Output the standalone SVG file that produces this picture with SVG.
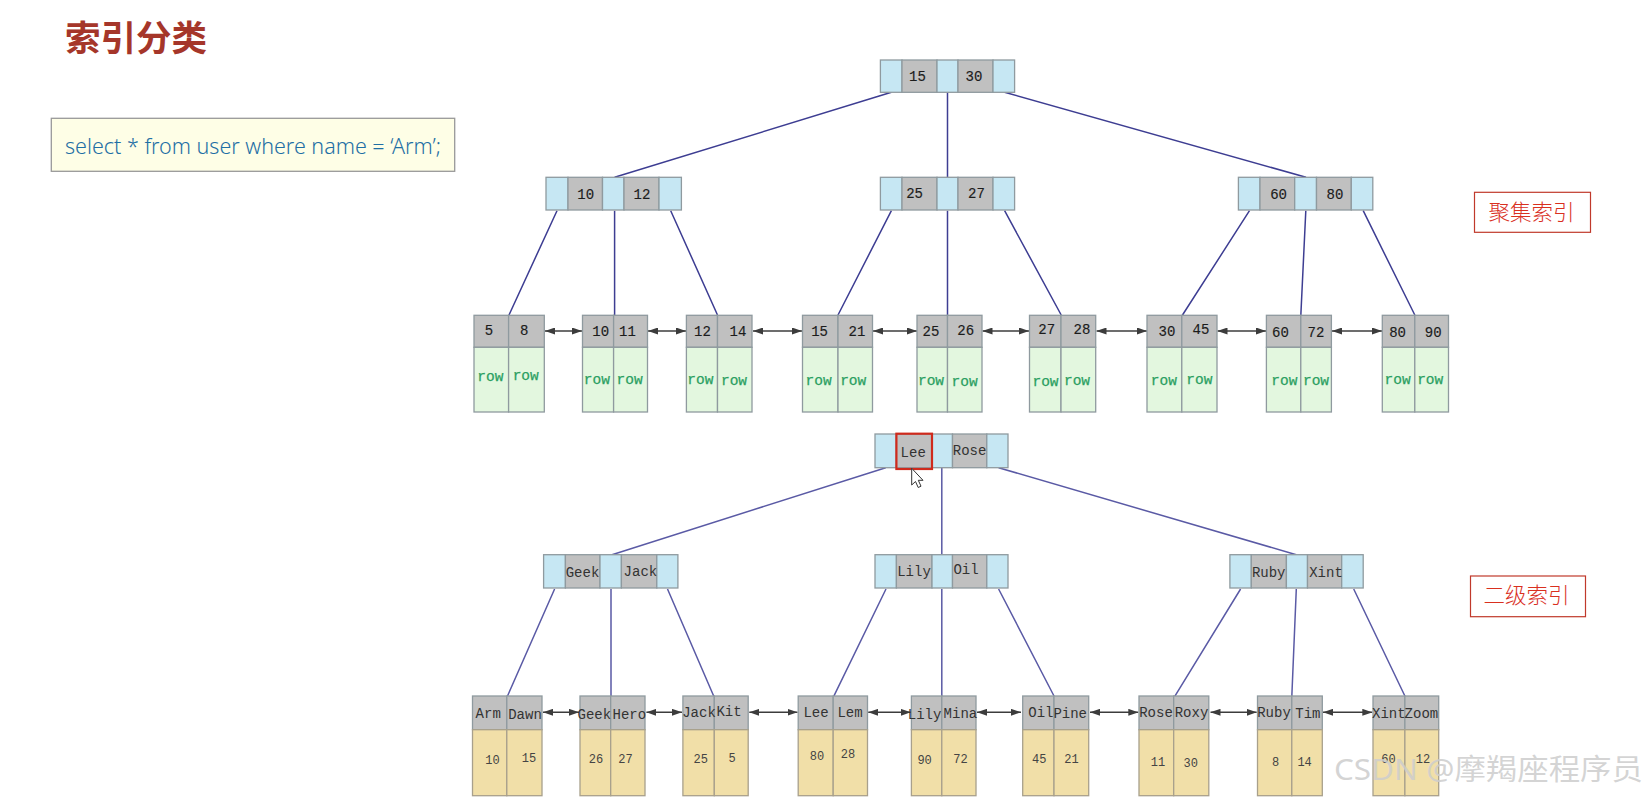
<svg xmlns="http://www.w3.org/2000/svg" width="1647" height="798" viewBox="0 0 1647 798">
<style>
text{font-family:"Liberation Mono",monospace;text-anchor:middle}
rect{stroke:#8f9a9f;stroke-width:1.3}
.b{fill:#c6e7f3}.g{fill:#c0c0c0}.r{fill:#e3f7df}.y{fill:#f1dfa8;stroke:#a8a08c}
.k{font-size:14px;fill:#1c1c1c;stroke:#1c1c1c;stroke-width:.15}
.n{font-size:14px;fill:#333}
.w{font-size:14.5px;fill:#2b9f62;stroke:#2b9f62;stroke-width:.25}
.v{font-size:12px;fill:#444}
.c{stroke:#3d3d92;stroke-width:1.5;fill:none}
.c2{stroke:#5a5aa5;stroke-width:1.5;fill:none}
.a{stroke:#3c3c3c;stroke-width:1.4;fill:none;marker-start:url(#ah);marker-end:url(#ah)}
.lb{fill:#fff;stroke:#c0392b;stroke-width:1.2}
.lt{font-family:"Noto Sans CJK SC",sans-serif;font-size:21.5px;font-weight:300;fill:#d9301f}
</style>
<defs><marker id="ah" markerUnits="userSpaceOnUse" markerWidth="10" markerHeight="7" refX="10" refY="3.5" orient="auto-start-reverse"><path d="M0 0L10 3.5L0 7Z" fill="#3c3c3c"/></marker></defs>
<rect width="1647" height="798" fill="#fff" style="stroke:none"/>
<g id="connectors">
<path class="c" d="M891.4 92.3L614.6 177.3M947.5 92.3V177.3M1004.6 92.3L1306 177.3M557 210.7L509 315M614.6 210.7V315M670.7 210.7L717.5 315M891.4 210.7L838 315M947.5 210.7V316M1004.6 210.7L1061.2 315M1249.5 210.7L1182.5 315M1305.8 210.7L1300.8 316M1363.2 210.7L1414.8 315"/>
<path class="c2" d="M885.7 467.7L612 554.7M941.8 467.7V554.7M998.6 467.7L1296.3 554.7M554.6 589L507.5 696M611 589V696M667.5 589L714 696.7M886 589L833.6 696.7M941.8 589V698M998.6 589L1054 696M1240.6 589L1174.6 696.7M1296.3 589L1291.8 696.7M1353.7 589L1404.9 696"/>
<line class="a" x1="545" y1="331" x2="582" y2="331"/><line class="a" x1="648" y1="331" x2="686" y2="331"/><line class="a" x1="753" y1="331" x2="802" y2="331"/><line class="a" x1="873" y1="331" x2="917" y2="331"/><line class="a" x1="982.5" y1="331" x2="1029" y2="331"/><line class="a" x1="1096.5" y1="331" x2="1147" y2="331"/><line class="a" x1="1217.5" y1="331" x2="1266" y2="331"/><line class="a" x1="1332" y1="331" x2="1382" y2="331"/>
<line class="a" x1="543" y1="712.3" x2="579" y2="712.3"/><line class="a" x1="646.4" y1="712.3" x2="682" y2="712.3"/><line class="a" x1="749.3" y1="712.3" x2="797.5" y2="712.3"/><line class="a" x1="868.2" y1="712.3" x2="910.7" y2="712.3"/><line class="a" x1="977" y1="712.3" x2="1021" y2="712.3"/><line class="a" x1="1090" y1="712.3" x2="1138.3" y2="712.3"/><line class="a" x1="1210.5" y1="712.3" x2="1256.7" y2="712.3"/><line class="a" x1="1323" y1="712.3" x2="1372.3" y2="712.3"/>
</g>
<g id="title"><text x="136" y="51" style="font-family:'Noto Sans CJK SC',sans-serif;font-size:35.5px;font-weight:700;fill:#a5362a">索引分类</text></g>
<g id="query"><rect x="51.3" y="118.3" width="403.4" height="53" style="fill:#fefee6;stroke:#999"/><text x="253" y="154" textLength="376" lengthAdjust="spacingAndGlyphs" style="font-family:'Noto Sans',sans-serif;font-size:22px;font-weight:300;fill:#1f6fa5">select * from user where name = ‘Arm’;</text></g>
<g id="label-clustered"><rect class="lb" x="1474.5" y="192.3" width="116" height="40"/><text class="lt" x="1531.5" y="220">聚集索引</text></g>
<g id="label-secondary"><rect class="lb" x="1470.5" y="576" width="115" height="40.7"/><text class="lt" x="1526.5" y="603">二级索引</text></g>

<g id="c-root"><rect class="b" x="880.4" y="60" width="21.6" height="32.3"/><rect class="g" x="902" y="60" width="35" height="32.3"/><rect class="b" x="937" y="60" width="21" height="32.3"/><rect class="g" x="958" y="60" width="35" height="32.3"/><rect class="b" x="993" y="60" width="21.6" height="32.3"/><text class="k" x="917.5" y="81.3">15</text><text class="k" x="974" y="81.3">30</text></g>
<g id="c-mid-1"><rect class="b" x="546" y="177.3" width="22" height="32.7"/><rect class="g" x="568" y="177.3" width="34.5" height="32.7"/><rect class="b" x="602.5" y="177.3" width="21.5" height="32.7"/><rect class="g" x="624" y="177.3" width="35" height="32.7"/><rect class="b" x="659" y="177.3" width="22.4" height="32.7"/><text class="k" x="585.7" y="198.6">10</text><text class="k" x="642" y="198.6">12</text></g>
<g id="c-mid-2"><rect class="b" x="880.4" y="177.3" width="21.6" height="32.7"/><rect class="g" x="902" y="177.3" width="35" height="32.7"/><rect class="b" x="937" y="177.3" width="21" height="32.7"/><rect class="g" x="958" y="177.3" width="35" height="32.7"/><rect class="b" x="993" y="177.3" width="21.6" height="32.7"/><text class="k" x="914.6" y="198">25</text><text class="k" x="976.4" y="198">27</text></g>
<g id="c-mid-3"><rect class="b" x="1238.4" y="177.3" width="21.6" height="32.7"/><rect class="g" x="1260" y="177.3" width="34.7" height="32.7"/><rect class="b" x="1294.7" y="177.3" width="21.8" height="32.7"/><rect class="g" x="1316.5" y="177.3" width="34.8" height="32.7"/><rect class="b" x="1351.3" y="177.3" width="21.5" height="32.7"/><text class="k" x="1278.6" y="198.6">60</text><text class="k" x="1334.9" y="198.6">80</text></g>

<g id="c-leaf-1"><rect class="g" x="474" y="315.3" width="34.6" height="32"/><rect class="g" x="508.6" y="315.3" width="35.7" height="32"/><rect class="r" x="474" y="347.3" width="34.6" height="64.7"/><rect class="r" x="508.6" y="347.3" width="35.7" height="64.7"/><text class="k" x="489" y="335">5</text><text class="k" x="524.3" y="335">8</text><text class="w" x="490.4" y="380.5">row</text><text class="w" x="525.7" y="379.5">row</text></g>
<g id="c-leaf-2"><rect class="g" x="582.5" y="315.3" width="31.1" height="32"/><rect class="g" x="613.6" y="315.3" width="33.9" height="32"/><rect class="r" x="582.5" y="347.3" width="31.1" height="64.7"/><rect class="r" x="613.6" y="347.3" width="33.9" height="64.7"/><text class="k" x="600.7" y="336">10</text><text class="k" x="627.5" y="336">11</text><text class="w" x="596.8" y="383.5">row</text><text class="w" x="629.6" y="384">row</text></g>
<g id="c-leaf-3"><rect class="g" x="686.4" y="315.3" width="31.1" height="32"/><rect class="g" x="717.5" y="315.3" width="34.5" height="32"/><rect class="r" x="686.4" y="347.3" width="31.1" height="64.7"/><rect class="r" x="717.5" y="347.3" width="34.5" height="64.7"/><text class="k" x="702.5" y="336">12</text><text class="k" x="737.9" y="336">14</text><text class="w" x="700.4" y="384">row</text><text class="w" x="734" y="385">row</text></g>
<g id="c-leaf-4"><rect class="g" x="802.5" y="315.3" width="35.5" height="32"/><rect class="g" x="838" y="315.3" width="34.5" height="32"/><rect class="r" x="802.5" y="347.3" width="35.5" height="64.7"/><rect class="r" x="838" y="347.3" width="34.5" height="64.7"/><text class="k" x="819.6" y="336">15</text><text class="k" x="857" y="336">21</text><text class="w" x="818.6" y="385">row</text><text class="w" x="853.2" y="385">row</text></g>
<g id="c-leaf-5"><rect class="g" x="917" y="315.3" width="30.5" height="32"/><rect class="g" x="947.5" y="315.3" width="34.5" height="32"/><rect class="r" x="917" y="347.3" width="30.5" height="64.7"/><rect class="r" x="947.5" y="347.3" width="34.5" height="64.7"/><text class="k" x="931" y="336">25</text><text class="k" x="965.7" y="335">26</text><text class="w" x="931" y="385">row</text><text class="w" x="964.6" y="386">row</text></g>
<g id="c-leaf-6"><rect class="g" x="1029.5" y="315.3" width="31.5" height="32"/><rect class="g" x="1061" y="315.3" width="34.7" height="32"/><rect class="r" x="1029.5" y="347.3" width="31.5" height="64.7"/><rect class="r" x="1061" y="347.3" width="34.7" height="64.7"/><text class="k" x="1046.7" y="334">27</text><text class="k" x="1081.9" y="334">28</text><text class="w" x="1045.5" y="386">row</text><text class="w" x="1077" y="385">row</text></g>
<g id="c-leaf-7"><rect class="g" x="1147" y="315.3" width="34.8" height="32"/><rect class="g" x="1181.8" y="315.3" width="35.2" height="32"/><rect class="r" x="1147" y="347.3" width="34.8" height="64.7"/><rect class="r" x="1181.8" y="347.3" width="35.2" height="64.7"/><text class="k" x="1166.9" y="336">30</text><text class="k" x="1200.9" y="334">45</text><text class="w" x="1163.8" y="385">row</text><text class="w" x="1199.4" y="384">row</text></g>
<g id="c-leaf-8"><rect class="g" x="1266.4" y="315.3" width="34.4" height="32"/><rect class="g" x="1300.8" y="315.3" width="30.6" height="32"/><rect class="r" x="1266.4" y="347.3" width="34.4" height="64.7"/><rect class="r" x="1300.8" y="347.3" width="30.6" height="64.7"/><text class="k" x="1280.5" y="336.6">60</text><text class="k" x="1316" y="336.6">72</text><text class="w" x="1284.3" y="385">row</text><text class="w" x="1316" y="385">row</text></g>
<g id="c-leaf-9"><rect class="g" x="1382.3" y="315.3" width="32.5" height="32"/><rect class="g" x="1414.8" y="315.3" width="33.7" height="32"/><rect class="r" x="1382.3" y="347.3" width="32.5" height="64.7"/><rect class="r" x="1414.8" y="347.3" width="33.7" height="64.7"/><text class="k" x="1397.6" y="336.6">80</text><text class="k" x="1433.2" y="336.6">90</text><text class="w" x="1397.6" y="384">row</text><text class="w" x="1430.2" y="384">row</text></g>

<g id="s-root"><rect class="b" x="875" y="434" width="21.4" height="33.7"/><rect class="g" x="896.4" y="434" width="35.6" height="33.7"/><rect class="b" x="932" y="434" width="20.5" height="33.7"/><rect class="g" x="952.5" y="434" width="34.3" height="33.7"/><rect class="b" x="986.8" y="434" width="21.2" height="33.7"/><rect x="896.4" y="433.7" width="35.6" height="35.3" style="fill:none;stroke:#cf2a1c;stroke-width:2.2"/><text class="n" x="913.2" y="456.5">Lee</text><text class="n" x="969.6" y="455">Rose</text></g>
<g id="s-mid-1"><rect class="b" x="543.6" y="554.7" width="21.8" height="33.3"/><rect class="g" x="565.4" y="554.7" width="34.6" height="33.3"/><rect class="b" x="600" y="554.7" width="21.4" height="33.3"/><rect class="g" x="621.4" y="554.7" width="35.4" height="33.3"/><rect class="b" x="656.8" y="554.7" width="21.1" height="33.3"/><text class="n" x="582.5" y="576.5">Geek</text><text class="n" x="640.4" y="576">Jack</text></g>
<g id="s-mid-2"><rect class="b" x="875" y="554.7" width="21.4" height="33.3"/><rect class="g" x="896.4" y="554.7" width="35.6" height="33.3"/><rect class="b" x="932" y="554.7" width="20.5" height="33.3"/><rect class="g" x="952.5" y="554.7" width="34.3" height="33.3"/><rect class="b" x="986.8" y="554.7" width="21.2" height="33.3"/><text class="n" x="914" y="575.5">Lily</text><text class="n" x="966" y="574">Oil</text></g>
<g id="s-mid-3"><rect class="b" x="1229.9" y="554.7" width="21.4" height="33.3"/><rect class="g" x="1251.3" y="554.7" width="35.1" height="33.3"/><rect class="b" x="1286.4" y="554.7" width="21.1" height="33.3"/><rect class="g" x="1307.5" y="554.7" width="34.2" height="33.3"/><rect class="b" x="1341.7" y="554.7" width="21.5" height="33.3"/><text class="n" x="1268.7" y="577">Ruby</text><text class="n" x="1326" y="577">Xint</text></g>

<g id="s-leaf-1"><rect class="g" x="472.5" y="696" width="34.3" height="33.7"/><rect class="g" x="506.8" y="696" width="35.2" height="33.7"/><rect class="y" x="472.5" y="729.7" width="34.3" height="66"/><rect class="y" x="506.8" y="729.7" width="35.2" height="66"/><text class="n" x="488.2" y="717.5">Arm</text><text class="n" x="525" y="718.5">Dawn</text><text class="v" x="492.5" y="764">10</text><text class="v" x="529" y="762">15</text></g>
<g id="s-leaf-2"><rect class="g" x="580" y="696" width="30.7" height="33.7"/><rect class="g" x="610.7" y="696" width="34.3" height="33.7"/><rect class="y" x="580" y="729.7" width="30.7" height="66"/><rect class="y" x="610.7" y="729.7" width="34.3" height="66"/><text class="n" x="594.3" y="719">Geek</text><text class="n" x="629.3" y="719">Hero</text><text class="v" x="596" y="763">26</text><text class="v" x="625.4" y="763">27</text></g>
<g id="s-leaf-3"><rect class="g" x="682.9" y="696" width="31.4" height="33.7"/><rect class="g" x="714.3" y="696" width="33.9" height="33.7"/><rect class="y" x="682.9" y="729.7" width="31.4" height="66"/><rect class="y" x="714.3" y="729.7" width="33.9" height="66"/><text class="n" x="699" y="716.5">Jack</text><text class="n" x="729" y="715.5">Kit</text><text class="v" x="700.7" y="763">25</text><text class="v" x="732" y="762">5</text></g>
<g id="s-leaf-4"><rect class="g" x="798.2" y="696" width="35" height="33.7"/><rect class="g" x="833.2" y="696" width="34.3" height="33.7"/><rect class="y" x="798.2" y="729.7" width="35" height="66"/><rect class="y" x="833.2" y="729.7" width="34.3" height="66"/><text class="n" x="816" y="717">Lee</text><text class="n" x="850" y="716.5">Lem</text><text class="v" x="817" y="760">80</text><text class="v" x="848" y="758">28</text></g>
<g id="s-leaf-5"><rect class="g" x="911.4" y="696" width="30.4" height="33.7"/><rect class="g" x="941.8" y="696" width="34.2" height="33.7"/><rect class="y" x="911.4" y="729.7" width="30.4" height="66"/><rect class="y" x="941.8" y="729.7" width="34.2" height="66"/><text class="n" x="924.6" y="718.5">Lily</text><text class="n" x="960.4" y="717.5">Mina</text><text class="v" x="924.6" y="764">90</text><text class="v" x="960.4" y="763">72</text></g>
<g id="s-leaf-6"><rect class="g" x="1022.7" y="696" width="31.3" height="33.7"/><rect class="g" x="1054" y="696" width="34.7" height="33.7"/><rect class="y" x="1022.7" y="729.7" width="31.3" height="66"/><rect class="y" x="1054" y="729.7" width="34.7" height="66"/><text class="n" x="1040.9" y="717">Oil</text><text class="n" x="1070.2" y="718">Pine</text><text class="v" x="1039.2" y="763">45</text><text class="v" x="1071.4" y="763">21</text></g>
<g id="s-leaf-7"><rect class="g" x="1139" y="696" width="34.7" height="33.7"/><rect class="g" x="1173.7" y="696" width="35.1" height="33.7"/><rect class="y" x="1139" y="729.7" width="34.7" height="66"/><rect class="y" x="1173.7" y="729.7" width="35.1" height="66"/><text class="n" x="1156" y="717">Rose</text><text class="n" x="1191.5" y="716.5">Roxy</text><text class="v" x="1158" y="766">11</text><text class="v" x="1190.7" y="767">30</text></g>
<g id="s-leaf-8"><rect class="g" x="1257.5" y="696" width="34.3" height="33.7"/><rect class="g" x="1291.8" y="696" width="30.5" height="33.7"/><rect class="y" x="1257.5" y="729.7" width="34.3" height="66"/><rect class="y" x="1291.8" y="729.7" width="30.5" height="66"/><text class="n" x="1274" y="716.5">Ruby</text><text class="n" x="1307.9" y="718">Tim</text><text class="v" x="1275.7" y="766">8</text><text class="v" x="1304.6" y="766">14</text></g>
<g id="s-leaf-9"><rect class="g" x="1373" y="696" width="31.9" height="33.7"/><rect class="g" x="1404.9" y="696" width="33.8" height="33.7"/><rect class="y" x="1373" y="729.7" width="31.9" height="66"/><rect class="y" x="1404.9" y="729.7" width="33.8" height="66"/><text class="n" x="1388.8" y="718">Xint</text><text class="n" x="1421.4" y="718">Zoom</text><text class="v" x="1388.4" y="763">60</text><text class="v" x="1423" y="763">12</text></g>

<polygon id="cursor" points="911.7,468.3 911.7,485 915.5,481.5 918.2,487.5 921,486.2 918.3,480.3 923,480.3" fill="#fff" stroke="#333" stroke-width="1"/>
<text id="watermark" x="1488.5" y="780" textLength="309" lengthAdjust="spacingAndGlyphs" style="font-family:'Noto Sans','Noto Sans CJK SC',sans-serif;font-size:29px;fill:#cdcdcd;fill-opacity:.85">CSDN @摩羯座程序员</text>
</svg>
